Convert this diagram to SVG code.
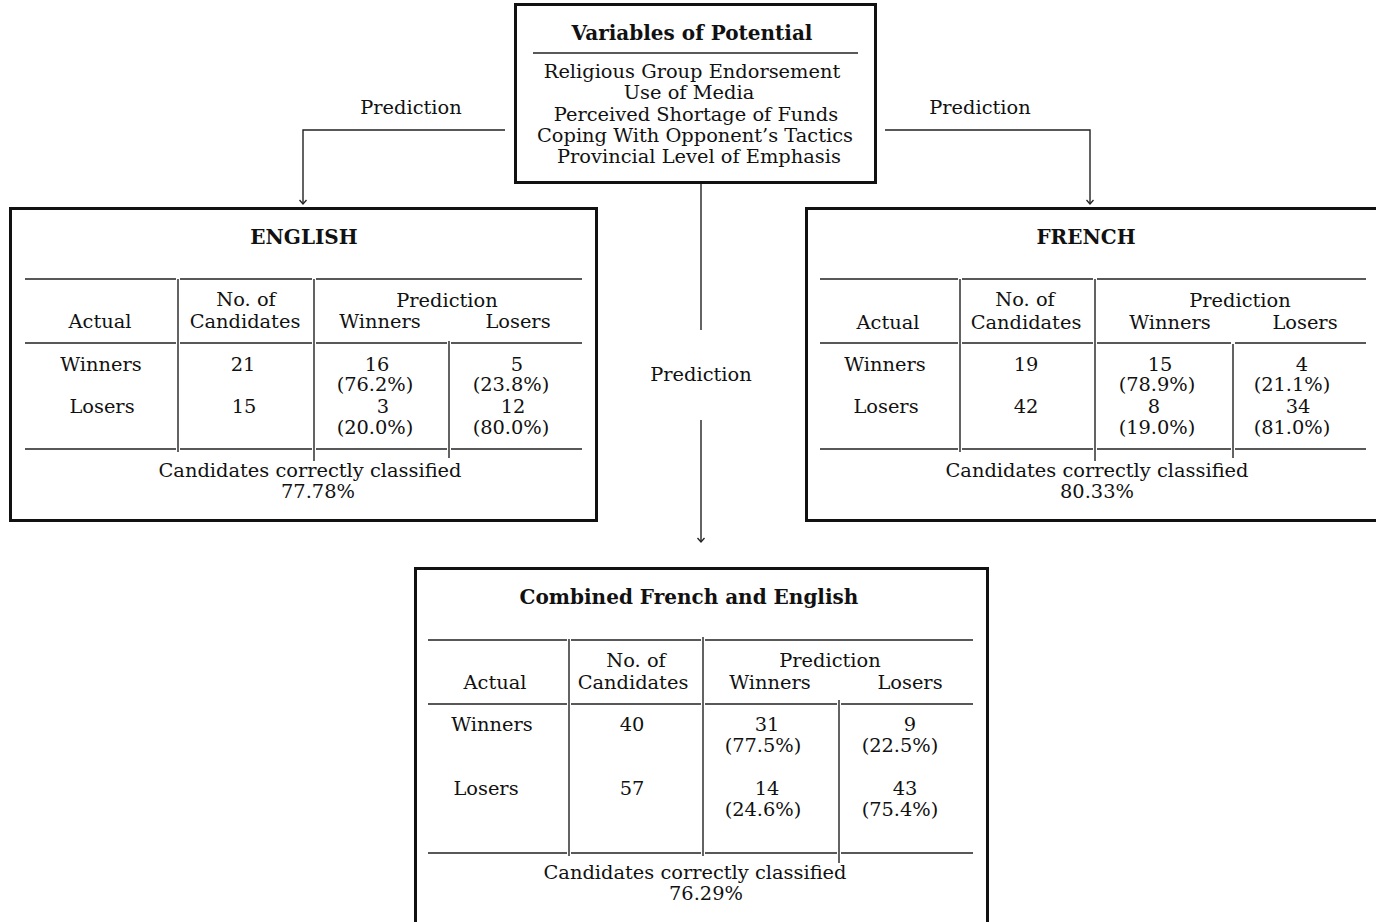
<svg xmlns="http://www.w3.org/2000/svg" width="1376" height="922" viewBox="0 0 1376 922">
<style>
text{font-family:"DejaVu Serif","Liberation Serif",serif;font-size:19.4px;fill:#111;text-anchor:middle}
.b{font-weight:bold;font-size:20px}
.box{fill:none;stroke:#111;stroke-width:3}
.r{stroke:#222;stroke-width:1.4;fill:none}
.c{stroke:#222;stroke-width:1.4;fill:none}
</style>
<defs>
<marker id="ah" markerWidth="10" markerHeight="10" refX="9" refY="5" orient="auto" markerUnits="userSpaceOnUse">
<polyline points="5,1.5 9,5 5,8.5" fill="none" stroke="#222" stroke-width="1.3"/>
</marker>
</defs>
<rect width="1376" height="922" fill="#fff"/>

<g id="connectors">
<polyline class="c" points="505,130 303,130 303,204" marker-end="url(#ah)"/>
<polyline class="c" points="885,130 1090,130 1090,204" marker-end="url(#ah)"/>
<line class="c" x1="701" y1="183" x2="701" y2="330"/>
<line class="c" x1="701" y1="420" x2="701" y2="542" marker-end="url(#ah)"/>
<text x="411" y="114">Prediction</text>
<text x="980" y="114">Prediction</text>
<text x="701" y="381">Prediction</text>
</g>

<g id="variables">
<rect class="box" x="515.5" y="4.5" width="360" height="178"/>
<text class="b" x="692" y="40">Variables of Potential</text>
<line class="r" x1="533" y1="53" x2="858" y2="53"/>
<text x="692" y="78">Religious Group Endorsement</text>
<text x="689" y="99">Use of Media</text>
<text x="696" y="121">Perceived Shortage of Funds</text>
<text x="695" y="142">Coping With Opponent’s Tactics</text>
<text x="699" y="163">Provincial Level of Emphasis</text>
</g>

<g id="english">
<rect class="box" x="10.5" y="208.5" width="586" height="312"/>
<text class="b" x="304" y="244">ENGLISH</text>
<path class="r" d="M25,279H176M180,279H312M316,279H582M25,343H176M180,343H312M316,343H447M451,343H582M25,449H176M180,449H312M316,449H447M451,449H582M178,279V452M314,279V461M449,341V458"/>
<text x="100" y="328">Actual</text>
<text x="246" y="306">No. of</text>
<text x="245" y="328">Candidates</text>
<text x="447" y="307">Prediction</text>
<text x="380" y="328">Winners</text>
<text x="518" y="328">Losers</text>
<text x="101" y="371">Winners</text>
<text x="243" y="371">21</text>
<text x="377" y="371">16</text>
<text x="517" y="371">5</text>
<text x="375" y="391">(76.2%)</text>
<text x="511" y="391">(23.8%)</text>
<text x="102" y="413">Losers</text>
<text x="244" y="413">15</text>
<text x="383" y="413">3</text>
<text x="513" y="413">12</text>
<text x="375" y="434">(20.0%)</text>
<text x="511" y="434">(80.0%)</text>
<text x="310" y="477">Candidates correctly classified</text>
<text x="318" y="498">77.78%</text>
</g>

<g id="french">
<path class="box" d="M1380,208.5H806.5V520.5H1380"/>
<text class="b" x="1086" y="244">FRENCH</text>
<path class="r" d="M820,279H958M962,279H1093M1097,279H1366M820,343H958M962,343H1093M1097,343H1231M1235,343H1366M820,449H958M962,449H1093M1097,449H1231M1235,449H1366M960,279V452M1095,279V461M1233,344V458"/>
<text x="888" y="329">Actual</text>
<text x="1025" y="306">No. of</text>
<text x="1026" y="329">Candidates</text>
<text x="1240" y="307">Prediction</text>
<text x="1170" y="329">Winners</text>
<text x="1305" y="329">Losers</text>
<text x="885" y="371">Winners</text>
<text x="1026" y="371">19</text>
<text x="1160" y="371">15</text>
<text x="1302" y="371">4</text>
<text x="1157" y="391">(78.9%)</text>
<text x="1292" y="391">(21.1%)</text>
<text x="886" y="413">Losers</text>
<text x="1026" y="413">42</text>
<text x="1154" y="413">8</text>
<text x="1298" y="413">34</text>
<text x="1157" y="434">(19.0%)</text>
<text x="1292" y="434">(81.0%)</text>
<text x="1097" y="477">Candidates correctly classified</text>
<text x="1097" y="498">80.33%</text>
</g>

<g id="combined">
<path class="box" d="M415.5,930V568.5H987.5V930"/>
<text class="b" x="689" y="604">Combined French and English</text>
<path class="r" d="M428,640H567M571,640H701M705,640H973M428,704H567M571,704H701M705,704H837M841,704H973M428,853H567M571,853H701M705,853H837M841,853H973M569,639V856M703,637V856M839,700V863"/>
<text x="495" y="689">Actual</text>
<text x="636" y="667">No. of</text>
<text x="633" y="689">Candidates</text>
<text x="830" y="667">Prediction</text>
<text x="770" y="689">Winners</text>
<text x="910" y="689">Losers</text>
<text x="492" y="731">Winners</text>
<text x="632" y="731">40</text>
<text x="767" y="731">31</text>
<text x="910" y="731">9</text>
<text x="763" y="752">(77.5%)</text>
<text x="900" y="752">(22.5%)</text>
<text x="486" y="795">Losers</text>
<text x="632" y="795">57</text>
<text x="767" y="795">14</text>
<text x="905" y="795">43</text>
<text x="763" y="816">(24.6%)</text>
<text x="900" y="816">(75.4%)</text>
<text x="695" y="879">Candidates correctly classified</text>
<text x="706" y="900">76.29%</text>
</g>
</svg>
